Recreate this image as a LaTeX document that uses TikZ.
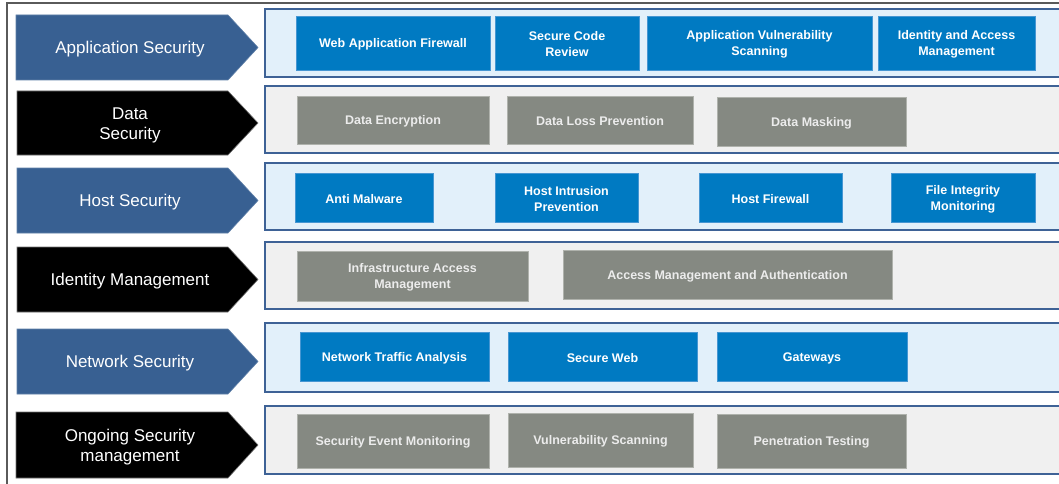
\documentclass[tikz,border=0pt]{standalone}
\usepackage{fontspec}
\setmainfont{Liberation Sans}
\definecolor{arrblue}{RGB}{56,96,146}
\definecolor{boxblue}{RGB}{0,122,194}
\definecolor{boxblueedge}{RGB}{70,150,210}
\definecolor{boxgray}{RGB}{133,137,130}
\definecolor{boxgrayedge}{RGB}{175,178,172}
\definecolor{panblue}{RGB}{226,240,250}
\definecolor{pangray}{RGB}{240,240,240}
\definecolor{panedge}{RGB}{62,98,150}
\definecolor{graytext}{RGB}{236,236,236}
\definecolor{frame}{RGB}{90,90,90}
\tikzset{
  bluearrow/.style={fill=arrblue, draw=arrblue!80!white, line width=0.6pt},
  blackarrow/.style={fill=black, draw=black!55, line width=0.6pt},
  arrtext/.style={text=white, font=\fontsize{17}{20}\selectfont, align=center, inner sep=0pt},
  bluepanel/.style={fill=panblue, draw=panedge, line width=1.6pt},
  graypanel/.style={fill=pangray, draw=panedge, line width=1.6pt},
  bluebox/.style={fill=boxblue, draw=boxblueedge, line width=0.6pt, text=white,
    font=\bfseries\fontsize{12.5}{16}\selectfont, align=center, inner sep=0pt},
  graybox/.style={fill=boxgray, draw=boxgrayedge, line width=0.6pt, text=graytext,
    font=\bfseries\fontsize{12.5}{16}\selectfont, align=center, inner sep=0pt},
}
% \secbox{name}{style}{x1}{y1}{x2}{y2}{text}
\newcommand{\secbox}[7]{%
  \node[#2, minimum width={(#5-#3)*1pt}, minimum height={(#6-#4)*1pt}]
    (#1) at ({(#3+#5)/2},{(#4+#6)/2}) {};
  \node[#2, fill=none, draw=none, yshift=-1.5pt] (#1-t) at (#1.center) {#7};}
% \secarrow{name}{style}{x1}{y1}{y2}{text}
\newcommand{\secarrow}[6]{%
  \path[#2] (#3,#4) -- (228,#4) -- (258,{(#4+#5)/2}) -- (228,#5) -- (#3,#5) -- cycle;
  \node[arrtext, yshift=-2pt] (#1) at (130,{(#4+#5)/2}) {#6};}
\begin{document}
\begin{tikzpicture}[x=1pt,y=-1pt]
\useasboundingbox (0,0) rectangle (1059,484);
\fill[white] (0,0) rectangle (1059,484);
\draw[frame, line width=1.2pt] (7,490) -- (7,3) -- (1065,3);

% Row 1
\secarrow{a1}{bluearrow}{16}{15}{80}{Application Security}
\path[bluepanel] (265,9) rectangle (1068,77);
\secbox{b11}{bluebox}{296}{16}{490}{70}{Web Application Firewall}
\secbox{b12}{bluebox}{495}{16}{639}{70}{Secure Code\\Review}
\secbox{b13}{bluebox}{647}{16}{872}{70}{Application Vulnerability\\Scanning}
\secbox{b14}{bluebox}{878}{16}{1035}{70}{Identity and Access\\Management}

% Row 2
\secarrow{a2}{blackarrow}{17}{91}{155}{Data\\Security}
\path[graypanel] (265,86) rectangle (1068,153);
\secbox{b21}{graybox}{297}{96}{489}{144}{Data Encryption}
\secbox{b22}{graybox}{507}{96}{693}{144}{Data Loss Prevention}
\secbox{b23}{graybox}{717}{97}{906}{146}{Data Masking}

% Row 3
\secarrow{a3}{bluearrow}{17}{168}{233}{Host Security}
\path[bluepanel] (265,163) rectangle (1068,230);
\secbox{b31}{bluebox}{295}{173}{433}{222}{Anti Malware}
\secbox{b32}{bluebox}{495}{173}{638}{222}{Host Intrusion\\Prevention}
\secbox{b33}{bluebox}{699}{173}{842}{222}{Host Firewall}
\secbox{b34}{bluebox}{891}{173}{1035}{222}{File Integrity\\Monitoring}

% Row 4
\secarrow{a4}{blackarrow}{17}{247}{312}{Identity Management}
\path[graypanel] (265,242) rectangle (1068,309);
\secbox{b41}{graybox}{297}{251}{528}{301}{Infrastructure Access\\Management}
\secbox{b42}{graybox}{563}{250}{892}{299}{Access Management and Authentication}

% Row 5
\secarrow{a5}{bluearrow}{17}{329}{394}{Network Security}
\path[bluepanel] (265,323) rectangle (1068,392);
\secbox{b51}{bluebox}{300}{332}{489}{381}{Network Traffic Analysis}
\secbox{b52}{bluebox}{508}{332}{697}{381}{Secure Web}
\secbox{b53}{bluebox}{717}{332}{907}{381}{Gateways}

% Row 6
\secarrow{a6}{blackarrow}{16}{412}{478}{Ongoing Security\\management}
\path[graypanel] (265,406) rectangle (1068,474);
\secbox{b61}{graybox}{297}{414}{489}{468}{Security Event Monitoring}
\secbox{b62}{graybox}{508}{413}{693}{467}{Vulnerability Scanning}
\secbox{b63}{graybox}{717}{414}{906}{468}{Penetration Testing}
\end{tikzpicture}
\end{document}
